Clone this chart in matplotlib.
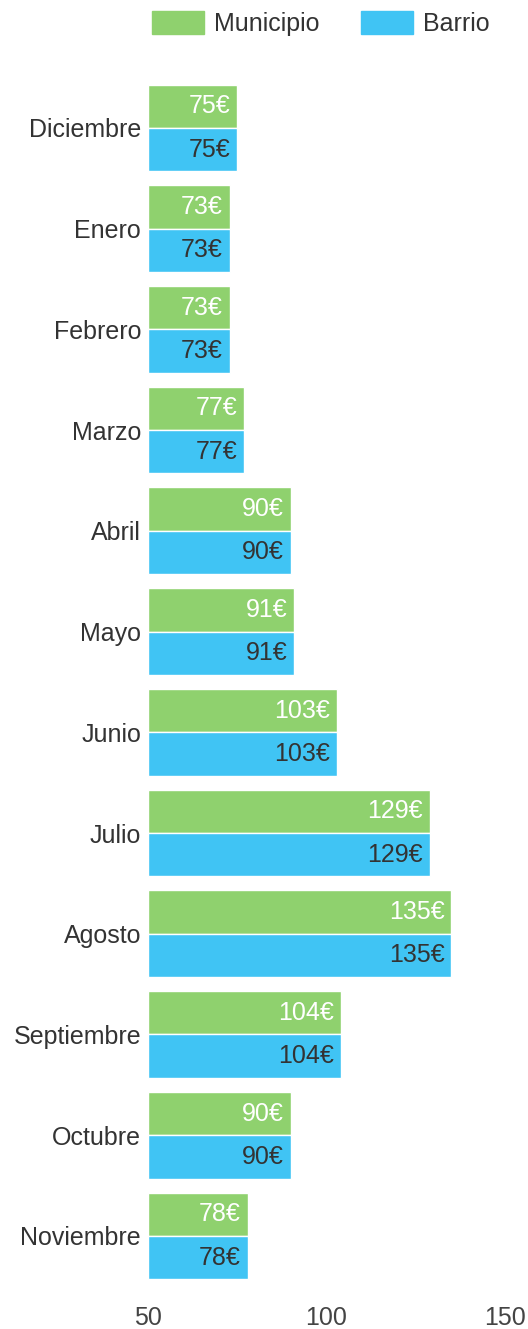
import matplotlib.pyplot as plt
import numpy as np
from matplotlib.patches import Patch

plt.rcParams["font.family"] = ["Liberation Sans", "DejaVu Sans"]

months = ["Diciembre", "Enero", "Febrero", "Marzo", "Abril", "Mayo", "Junio",
          "Julio", "Agosto", "Septiembre", "Octubre", "Noviembre"]
municipio = [75, 73, 73, 77, 90, 91, 103, 129, 135, 104, 90, 78]
barrio = [75, 73, 73, 77, 90, 91, 103, 129, 135, 104, 90, 78]

green = "#8fd16e"
blue = "#40c4f4"

fig = plt.figure(figsize=(5.28, 13.29), dpi=100)
ax = fig.add_axes([0.2803, 0.0321, 0.6761, 0.9096])

y = np.arange(len(months))
h = 0.43
ax.barh(y - h / 2, np.array(municipio) - 50, left=50, height=h, color=green,
        edgecolor="white", linewidth=1)
ax.barh(y + h / 2, np.array(barrio) - 50, left=50, height=h, color=blue,
        edgecolor="white", linewidth=1)

# value labels sit inside the bar end
for yi, m, b in zip(y, municipio, barrio):
    ax.annotate(f"{m}€", (m, yi - h / 2), xytext=(-7, 0), textcoords="offset pixels",
                ha="right", va="center", fontsize=18, color="white")
    ax.annotate(f"{b}€", (b, yi + h / 2), xytext=(-7, 0), textcoords="offset pixels",
                ha="right", va="center", fontsize=18, color="#333333")

ax.set_xlim(50, 150)
ax.set_ylim(len(months) - 0.5, -0.5)
ax.set_xticks([50, 100, 150])
ax.set_yticks(y)
ax.set_yticklabels(months)
ax.tick_params(axis="x", length=0, pad=14, labelsize=18, labelcolor="#444444")
ax.tick_params(axis="y", length=0, pad=5, labelsize=18, labelcolor="#333333")
for s in ax.spines.values():
    s.set_visible(False)

handles = [Patch(color=green, label="Municipio"), Patch(color=blue, label="Barrio")]
fig.legend(handles=handles, loc="upper center", bbox_to_anchor=(0.608, 1.009), ncol=2,
           frameon=False, fontsize=18, handlelength=2.08, handleheight=1.05,
           columnspacing=1.68, handletextpad=0.4, labelcolor="#333333")

fig.savefig("out.png", dpi=100)
